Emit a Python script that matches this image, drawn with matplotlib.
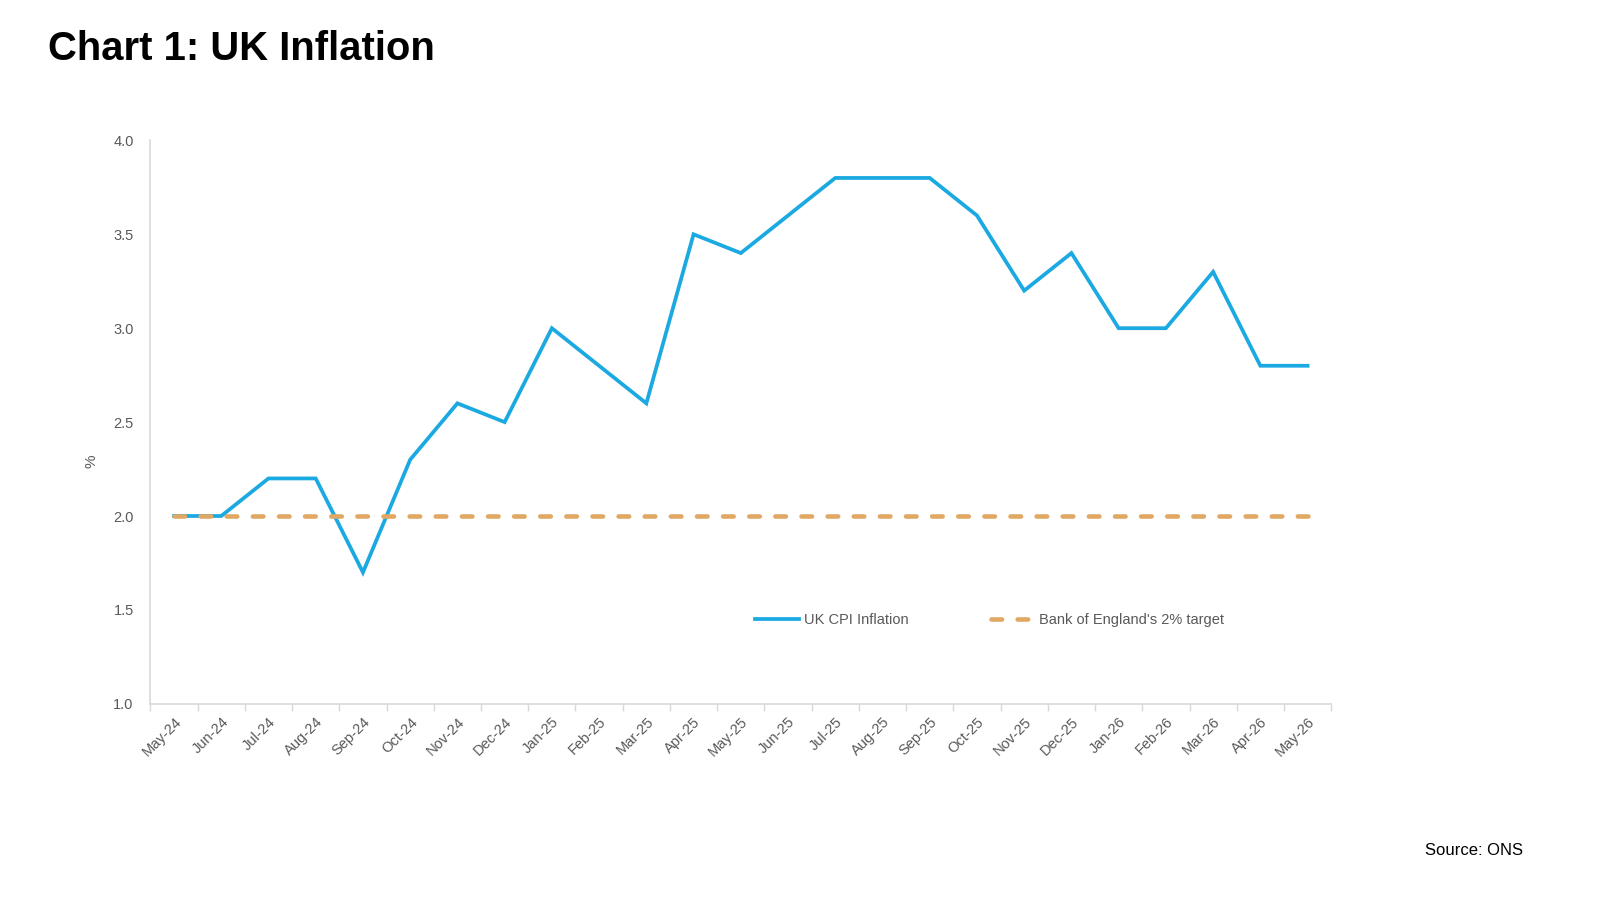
import matplotlib
matplotlib.use("Agg")
import matplotlib.pyplot as plt
import numpy as np

plt.rcParams['font.family'] = ['Liberation Sans', 'DejaVu Sans']

months = ["May-24", "Jun-24", "Jul-24", "Aug-24", "Sep-24", "Oct-24", "Nov-24", "Dec-24",
          "Jan-25", "Feb-25", "Mar-25", "Apr-25", "May-25", "Jun-25", "Jul-25", "Aug-25",
          "Sep-25", "Oct-25", "Nov-25", "Dec-25", "Jan-26", "Feb-26", "Mar-26", "Apr-26", "May-26"]
cpi = [2.0, 2.0, 2.2, 2.2, 1.7, 2.3, 2.6, 2.5, 3.0, 2.8, 2.6, 3.5, 3.4, 3.6, 3.8, 3.8,
       3.8, 3.6, 3.2, 3.4, 3.0, 3.0, 3.3, 2.8, 2.8]
target = [2.0] * len(months)
yticks = [1.0, 1.5, 2.0, 2.5, 3.0, 3.5, 4.0]

fig = plt.figure(figsize=(16, 9), dpi=100)
ax = fig.add_axes([0.094, 0.218, 0.738, 0.626])

x = np.arange(len(months))
ax.plot(x, cpi, color='#1BA9E1', lw=2.7, solid_joinstyle='miter', label='UK CPI Inflation', zorder=2)
ax.plot(x, target, color='#E0A862', lw=3.3, dashes=(2.3, 3.4), dash_capstyle='round',
        label="Bank of England's 2% target", zorder=3)

ax.set_xlim(-0.5, len(months) - 0.5)
ax.set_ylim(1.0, 4.0)
ax.set_yticks(yticks)
ax.set_yticklabels([f"{v:.1f}" for v in yticks], color='#595959', fontsize=10.5)
ax.tick_params(axis='y', length=0, pad=12)

ax.set_xticks(x)
ax.set_xticklabels(months, rotation=45, ha='right', rotation_mode='anchor',
                   color='#595959', fontsize=10.5)
ax.tick_params(axis='x', which='major', length=0, pad=8)
ax.set_xticks(np.arange(-0.5, len(months)), minor=True)
ax.tick_params(axis='x', which='minor', length=5, color='#D9D9D9', width=1)

for s in ['top', 'right']:
    ax.spines[s].set_visible(False)
for s in ['left', 'bottom']:
    ax.spines[s].set_color('#D9D9D9')
    ax.spines[s].set_linewidth(1.2)

ax.set_ylabel('%', color='#595959', fontsize=11)
ax.yaxis.set_label_coords(-0.044, 0.431)

leg = ax.legend(loc='center', bbox_to_anchor=(0.711, 0.148), ncol=2, frameon=False,
                fontsize=10.5, handlelength=3.0, handletextpad=0.3, columnspacing=5.7)
for t in leg.get_texts():
    t.set_color('#595959')

fig.text(0.03, 0.945, "Chart 1: UK Inflation", fontsize=28.8, fontweight='bold',
         color='black', va='center', ha='left')
fig.text(0.952, 0.055, "Source: ONS", fontsize=12, color='black', ha='right', va='center')

fig.savefig('out.png', dpi=100, facecolor='white')
